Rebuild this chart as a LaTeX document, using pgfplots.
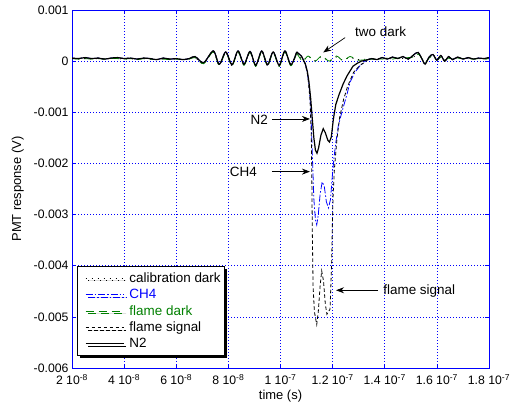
\documentclass[border=0pt]{standalone}
\usepackage{fontspec}
\setmainfont{Liberation Sans}
\usepackage{pgfplots}
\pgfplotsset{compat=1.18}
\usepackage{pgfplotstable}
\usetikzlibrary{arrows.meta,shadows}
\definecolor{mgreen}{rgb}{0,0.5,0}

\pgfplotstableread{
t s d
2.0 0.06 0.05
2.25 0.05 0.04
2.5 0.07 0.05
2.75 0.05 0.04
3.0 0.06 0.05
3.25 0.04 0.04
3.5 0.06 0.05
3.75 0.07 0.05
4.0 0.05 0.04
4.25 0.06 0.05
4.5 0.04 0.03
4.75 0.06 0.05
5.0 0.05 0.04
5.25 0.03 0.03
5.5 0.06 0.04
5.75 0.04 0.03
6.0 0.05 0.04
6.25 0.03 0.03
6.5 0.05 0.04
6.72 0.09 0.07
7.05 -0.03 -0.05
7.42 0.20 0.18
7.65 -0.06 -0.08
7.90 0.18 0.16
8.14 -0.07 -0.09
8.37 0.20 0.18
8.60 -0.06 -0.08
8.83 0.19 0.17
9.05 -0.08 -0.10
9.28 0.20 0.18
9.50 -0.07 -0.09
9.72 0.18 0.16
9.95 -0.08 -0.10
10.17 0.20 0.18
10.40 -0.07 -0.09
10.62 0.18 0.16
}\pre

\pgfplotstableread{
t a b
10.62 0.17 0.16
10.85 0.02 0.0
11.06 0.09 0.1
11.32 0.01 0.0
11.58 0.08 0.1
11.87 0.01 0.0
12.15 0.08 0.1
12.4 0.02 0.01
12.67 0.07 0.09
12.95 0.03 0.02
13.3 0.04 0.03
}\darkmid

\pgfplotstableread{
t s d
13.3 0.02 0.03
13.5 0.05 0.04
13.7 0.03 0.05
13.9 0.07 0.04
14.1 0.04 0.06
14.3 0.08 0.04
14.5 0.05 0.06
14.7 0.09 0.05
14.9 0.04 0.07
15.1 0.12 0.08
15.28 0.17 0.14
15.45 0.02 0.03
15.55 -0.06 -0.03
15.7 0.08 0.06
15.85 0.13 0.1
16.0 0.02 0.02
16.15 0.11 0.08
16.3 0.0 0.02
16.45 0.09 0.06
16.6 0.03 0.04
16.8 0.08 0.06
17.0 0.04 0.05
17.2 0.07 0.05
17.4 0.04 0.04
17.6 0.06 0.05
17.8 0.05 0.04
18.0 0.07 0.05
}\post

\pgfplotstableread{
t v
10.62 0.18
10.80 0.10
10.95 -0.05
11.03 -0.20
11.09 -0.40
11.16 -0.74
11.22 -1.13
11.28 -1.50
11.34 -1.74
11.40 -1.80
11.46 -1.70
11.55 -1.45
11.64 -1.32
11.72 -1.40
11.82 -1.55
11.88 -1.58
11.95 -1.48
12.03 -1.13
12.12 -0.85
12.25 -0.65
12.40 -0.45
12.55 -0.29
12.78 -0.10
12.95 -0.04
13.10 0.00
13.30 0.02
}\ntwo

\pgfplotstableread{
t v
10.62 0.18
10.80 0.10
10.95 -0.05
11.03 -0.22
11.10 -0.50
11.16 -0.90
11.22 -1.80
11.28 -2.70
11.34 -3.10
11.39 -3.20
11.45 -3.00
11.52 -2.60
11.60 -2.36
11.68 -2.45
11.76 -2.75
11.84 -2.87
11.92 -2.70
11.98 -2.30
12.05 -1.90
12.12 -1.60
12.22 -1.26
12.38 -0.95
12.54 -0.67
12.67 -0.41
12.85 -0.22
13.05 -0.09
13.30 0.02
}\chfour

\pgfplotstableread{
t v
10.62 0.18
10.80 0.10
10.95 -0.05
11.05 -0.30
11.13 -0.74
11.18 -1.40
11.20 -2.20
11.22 -3.30
11.25 -4.40
11.30 -4.90
11.39 -5.15
11.45 -4.90
11.52 -4.40
11.58 -4.10
11.65 -4.30
11.72 -4.75
11.78 -4.95
11.90 -4.85
11.96 -4.00
11.99 -3.20
12.02 -2.60
12.07 -2.10
12.17 -1.50
12.27 -1.10
12.42 -0.75
12.57 -0.50
12.80 -0.22
13.05 -0.08
13.30 0.00
}\flame

\begin{document}
\begin{tikzpicture}
\path[use as bounding box] (0,0) rectangle (520bp,409bp);
\begin{axis}[
  at={(72bp,41bp)}, anchor=south west, scale only axis,
  width=417bp, height=358bp,
  xmin=2, xmax=18, ymin=-6, ymax=1,
  xtick={2,4,...,18},
  xticklabels={2 10\textsuperscript{-8},4 10\textsuperscript{-8},6 10\textsuperscript{-8},8 10\textsuperscript{-8},1 10\textsuperscript{-7},1.2 10\textsuperscript{-7},1.4 10\textsuperscript{-7},1.6 10\textsuperscript{-7},1.8 10\textsuperscript{-7}},
  ytick={-6,-5,-4,-3,-2,-1,0,1},
  yticklabels={-0.006,-0.005,-0.004,-0.003,-0.002,-0.001,0,0.001},
  ticklabel style={font=\fontsize{12.3}{14}\selectfont},
  xticklabel style={yshift=-3bp},
  axis line style={blue, line width=0.8bp},
  tick style={blue, line width=0.7bp},
  tick align=inside, major tick length=4bp,
  grid=major,
  major grid style={blue, line width=0.7bp, dash pattern=on 1.2bp off 1.8bp},
  xlabel={time (s)}, ylabel={PMT response (V)},
  label style={font=\fontsize{13}{15}\selectfont},
  xlabel style={at={(axis description cs:0.5,-0.078)}, anchor=center},
  ylabel style={at={(axis description cs:-0.13,0.5)}, anchor=center},
  legend style={at={(0.012,0.034)}, anchor=south west, draw=black, line width=1bp,
    fill=white, font=\fontsize{13.5}{15}\selectfont, inner xsep=2bp, inner ysep=4bp,
    row sep=1.3bp, cells={anchor=west},
    drop shadow={shadow xshift=2.5bp, shadow yshift=-2.5bp, fill=black, opacity=1}},
  legend image code/.code={\path[draw=none,fill=none] (0bp,0bp) (48bp,0bp); \draw[#1] (6bp,0bp) -- (44bp,0bp);},
]
% calibration dark
\addplot[black, line width=0.8bp, dash pattern=on 1bp off 5bp, smooth] table[x=t,y=a]{\darkmid};
\addlegendentry{calibration dark}
\addplot[black, line width=0.8bp, dash pattern=on 1bp off 5bp, smooth, forget plot] table[x=t,y=d]{\pre};
\addplot[black, line width=0.8bp, dash pattern=on 1bp off 5bp, smooth, forget plot] table[x=t,y=d]{\post};
% CH4
\addplot[blue, line width=0.8bp, dash pattern=on 7bp off 2bp on 1.5bp off 2bp] table[x=t,y=v]{\chfour};
\addlegendentry{\textcolor{blue}{CH4}}
\addplot[blue, line width=0.8bp, dash pattern=on 7bp off 2bp on 1.5bp off 2bp, smooth, forget plot] table[x=t,y=s]{\pre};
\addplot[blue, line width=0.8bp, dash pattern=on 7bp off 2bp on 1.5bp off 2bp, smooth, forget plot] table[x=t,y=s]{\post};
% flame dark
\addplot[mgreen, line width=0.8bp, dash pattern=on 8bp off 5bp, smooth] table[x=t,y=b]{\darkmid};
\addlegendentry{\textcolor{mgreen}{flame dark}}
\addplot[mgreen, line width=0.8bp, dash pattern=on 8bp off 5bp, smooth, forget plot] table[x=t,y=d]{\pre};
\addplot[mgreen, line width=0.8bp, dash pattern=on 8bp off 5bp, smooth, forget plot] table[x=t,y=d]{\post};
% flame signal
\addplot[black, line width=0.8bp, dash pattern=on 3.5bp off 2.5bp] table[x=t,y=v]{\flame};
\addlegendentry{flame signal}
\addplot[black, line width=0.8bp, dash pattern=on 3.5bp off 2.5bp, smooth, forget plot] table[x=t,y=s]{\pre};
\addplot[black, line width=0.8bp, dash pattern=on 3.5bp off 2.5bp, smooth, forget plot] table[x=t,y=s]{\post};
% N2
\addplot[black, line width=1.2bp] table[x=t,y=v]{\ntwo};
\addlegendentry{N2}
\addplot[black, line width=1.2bp, smooth, forget plot] table[x=t,y=s]{\pre};
\addplot[black, line width=1.2bp, smooth, forget plot] table[x=t,y=s]{\post};
% annotations
\draw[-{Stealth[length=8bp,width=6bp]}, line width=0.7bp] (axis cs:9.67,-1.13) -- (axis cs:11.13,-1.13);
\node[anchor=east, inner sep=1bp, font=\fontsize{13.5}{15}\selectfont] at (axis cs:9.56,-1.15) {N2};
\draw[-{Stealth[length=8bp,width=6bp]}, line width=0.7bp] (axis cs:9.67,-2.16) -- (axis cs:11.13,-2.16);
\node[anchor=east, inner sep=1bp, font=\fontsize{13.5}{15}\selectfont] at (axis cs:9.14,-2.17) {CH4};
\draw[-{Stealth[length=8bp,width=6bp]}, line width=0.7bp] (axis cs:13.75,-4.48) -- (axis cs:12.13,-4.48);
\node[anchor=west, inner sep=1bp, font=\fontsize{13.5}{15}\selectfont] at (axis cs:13.9,-4.5) {flame signal};
\draw[-{Stealth[length=8bp,width=6bp]}, line width=0.7bp] (axis cs:12.48,0.46) -- (axis cs:11.64,0.17);
\node[anchor=west, inner sep=1bp, font=\fontsize{13.5}{15}\selectfont] at (axis cs:12.82,0.58) {two dark};
\end{axis}
\end{tikzpicture}
\end{document}
